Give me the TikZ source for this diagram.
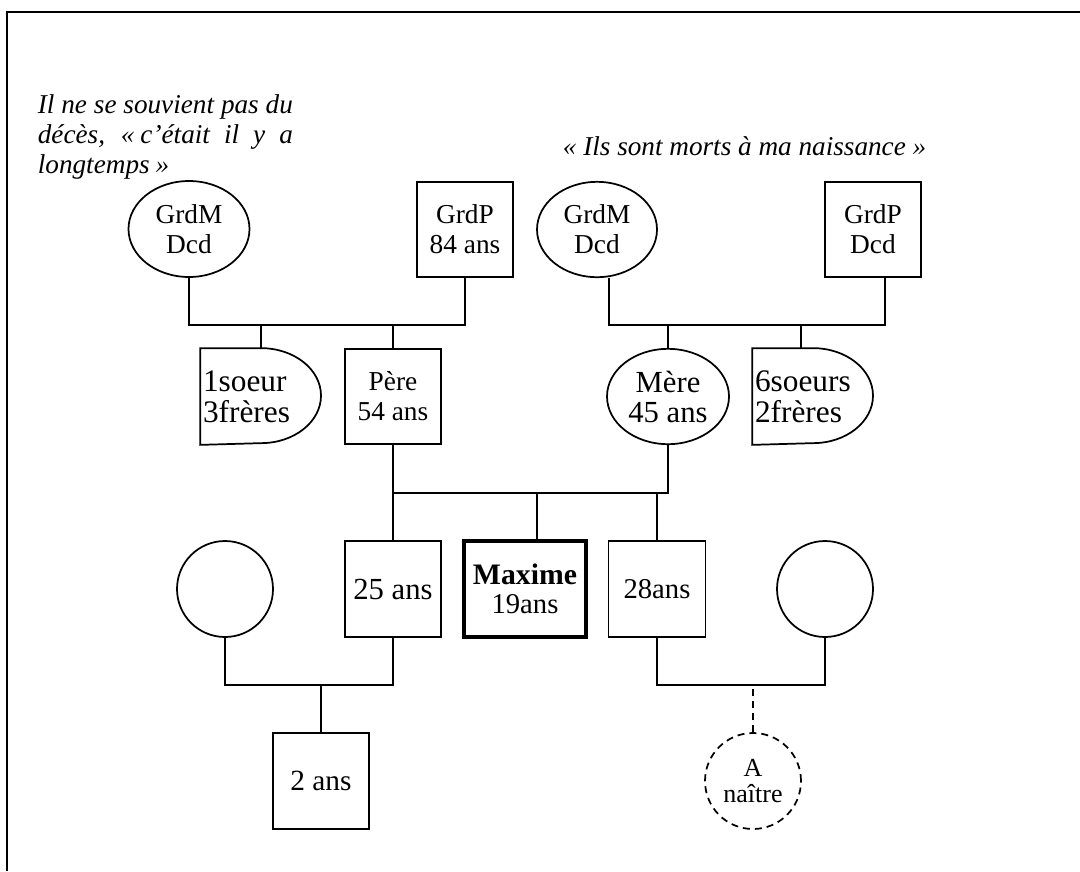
\documentclass[tikz,border=0pt]{standalone}
\usepackage{fontspec}
\setmainfont{Liberation Serif}
\usetikzlibrary{shapes.geometric,calc}
\begin{document}
\begin{tikzpicture}[x=0.75pt,y=-0.75pt,
  line width=1.3pt,
  person/.style={draw, line width=1.3pt, inner sep=0pt, align=center,
    font=\fontsize{20.5pt}{22.5pt}\selectfont},
  male/.style={person, rectangle, minimum width=72pt, minimum height=71.5pt},
  female/.style={person, ellipse, minimum width=90pt, minimum height=71.5pt},
  girl/.style={person, circle, minimum size=72pt},
  sibs/.style={inner xsep=1.5pt, inner ysep=0pt, text width=87pt, align=left,
    minimum height=71.25pt, font=\fontsize{23.5pt}{23.25pt}\selectfont},
  unborn/.style={girl, dash pattern=on 5.25pt off 3.75pt, font=\fontsize{19.5pt}{20pt}\selectfont},
  note/.style={inner sep=0pt, anchor=base west, font=\itshape\fontsize{20.4pt}{22.5pt}\selectfont},
  link/.style={line width=1.3pt},
  dlink/.style={line width=1.3pt, dash pattern=on 5.25pt off 3.75pt}
]
\useasboundingbox (0,0) rectangle (1080,871);
% frame
\draw[line width=1.5pt] (1080,12) -- (7,12) -- (7,871);

% notes
\node[note] (note1) at (37,113) {\vtop{%
  \hbox{\makebox[191.25pt][s]{Il ne se souvient pas du}}%
  \hbox{\makebox[191.25pt][s]{décès, «\hspace{0.22em}c’était il y a}}%
  \hbox{longtemps\hspace{0.22em}»}}};
\node[note] (note2) at (562,155) {« Ils sont morts à ma naissance »};

% generation 1
\node[female, minimum width=90.75pt, minimum height=72pt] (gm1) at (189,229) {GrdM\\Dcd};
\node[male] (gp1) at (465,229.5) {GrdP\\84 ans};
\node[female] (gm2) at (597,229.5) {GrdM\\Dcd};
\node[male] (gp2) at (873,229.5) {GrdP\\Dcd};

% generation 2
\node[sibs] (sib1) at (261,396.5) {1soeur\\3frères};
\draw (sib1.north west) -- (sib1.north) arc[start angle=90, end angle=-90, x radius=45pt, y radius=35.625pt] -- (sib1.south west) -- cycle;
\node[male] (pere) at (393,396.5) {Père\\54 ans};
\node[female, minimum width=91.5pt, font=\fontsize{23pt}{22.5pt}\selectfont] (mere) at (668,396.5) {Mère\\45 ans};
\node[sibs] (sib2) at (813,396.5) {6soeurs\\2frères};
\draw (sib2.north west) -- (sib2.north) arc[start angle=90, end angle=-90, x radius=45pt, y radius=35.625pt] -- (sib2.south west) -- cycle;

% generation 3
\node[girl] (wifeL) at (225,589) {};
\node[male, minimum height=72pt, font=\fontsize{23pt}{22.5pt}\selectfont] (son25) at (393,589) {25 ans};
\node[male, minimum width=91.5pt, minimum height=72pt, line width=2.6pt,
  font=\fontsize{21.5pt}{21.75pt}\selectfont] (max) at (525,589) {{\fontsize{22.3pt}{21.75pt}\selectfont\bfseries Maxime}\\19ans};
\node[male, minimum width=72.75pt, minimum height=72pt, font=\fontsize{21.5pt}{22.5pt}\selectfont] (son28) at (657,589) {28ans};
\node[girl] (wifeR) at (825,589) {};

% generation 4
\node[male, minimum height=72pt, font=\fontsize{22pt}{22.5pt}\selectfont] (kid) at (321,781) {2 ans};
\node[unborn] (baby) at (753,781) {A\\naître};

% family 1
\coordinate (mA) at (327,325);
\draw[link] (gm1.south) |- (mA) -| (gp1.south);
\draw[link] (sib1.north) -- (sib1.north |- mA);
\draw[link] (pere.north) -- (pere.north |- mA);

% family 2
\coordinate (mB) at (747,325);
\coordinate (gm2d) at ($(gm2.south)+(12,0)$);
\coordinate (gp2d) at ($(gp2.south)+(12,0)$);
\coordinate (sib2u) at ($(sib2.north)+(-12,0)$);
\draw[link] (gm2d) |- (mB) -| (gp2d);
\draw[link] (sib2u) -- (sib2u |- mB);
\draw[link] (mere.north) -- (mere.north |- mB);

% parents
\coordinate (mC) at (531,493);
\draw[link] (pere.south) -- (son25.north);
\draw[link] (pere.south |- mC) -| (mere.south);
\coordinate (maxu) at ($(max.north)+(12,0)$);
\draw[link] (maxu) -- (maxu |- mC);
\draw[link] (son28.north) -- (son28.north |- mC);

% couple left
\coordinate (mD) at (309,685);
\draw[link] (wifeL.south) |- (mD) -| (son25.south);
\draw[link] (kid.north) -- (kid.north |- mD);

% couple right
\coordinate (mE) at (741,685);
\draw[link] (son28.south) |- (mE) -| (wifeR.south);
\draw[dlink] (baby.north) -- (baby.north |- mE);
\end{tikzpicture}
\end{document}
